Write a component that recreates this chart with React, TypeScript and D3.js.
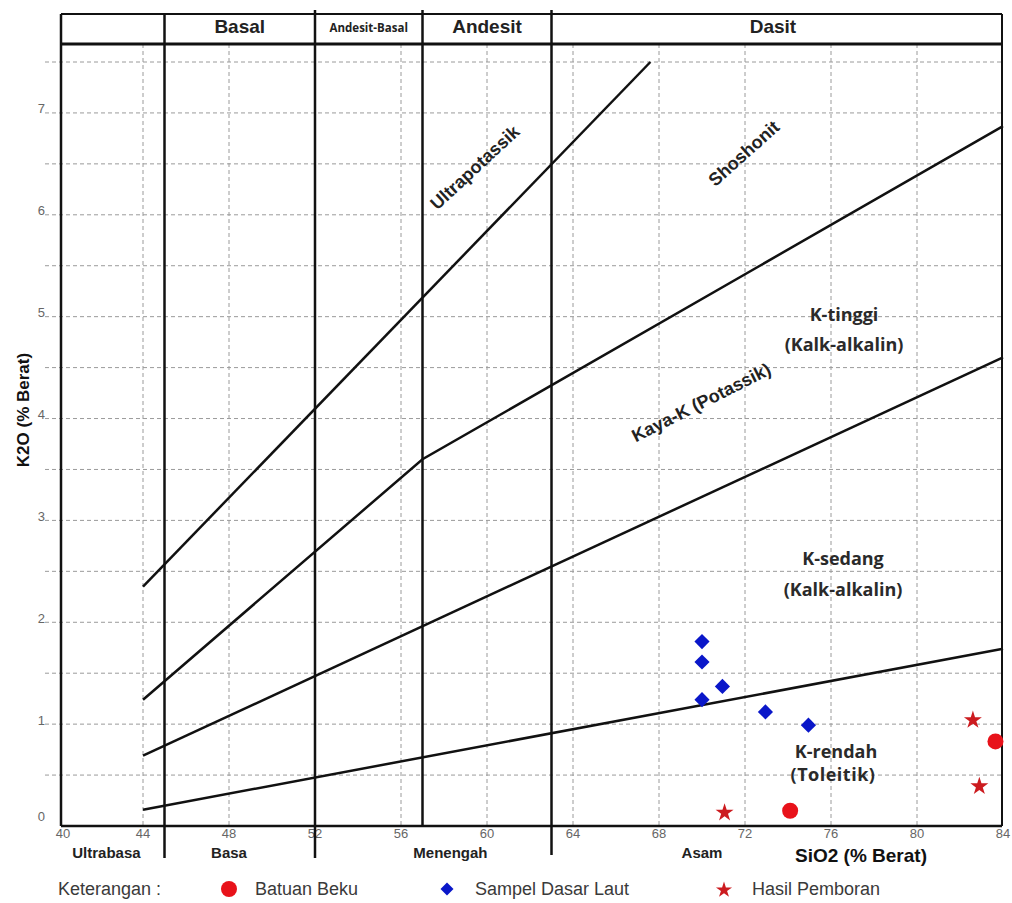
import * as d3 from 'd3';
import React from 'react';

// Harker-style K2O vs SiO2 diagram (Peccerillo & Taylor)
const sio2Ticks = [40, 44, 48, 52, 56, 60, 64, 68, 72, 76, 80, 84];
const k2oTicks = [0, 1, 2, 3, 4, 5, 6, 7];
const gridX = [44, 48, 52, 56, 60, 64, 68, 72, 76, 80];
const gridY = [0.5, 1, 1.5, 2, 2.5, 3, 3.5, 4, 4.5, 5, 5.5, 6, 6.5, 7, 7.5];

// rock type boundaries (SiO2 %)
const divisions = [45, 52, 57, 63];
const headerNames = ['Basal', 'Andesit-Basal', 'Andesit', 'Dasit'];
const headerCenters = [48.5, 54.5, 60, 73.3];
const bottomNames = ['Ultrabasa', 'Basa', 'Menengah', 'Asam'];
const bottomCenters = [42.3, 48, 58.3, 70];

// series boundary lines [SiO2, K2O]
const ultrapotassikLine: [number, number][] = [[44, 2.35], [67.6, 7.5]];
const shoshonitLine: [number, number][] = [[44, 1.24], [57, 3.6], [84, 6.87]];
const highKLine: [number, number][] = [[44, 0.69], [84, 4.6]];
const lowKLine: [number, number][] = [[44, 0.16], [84, 1.74]];

// samples
const batuanBeku: [number, number][] = [[74.1, 0.15], [83.65, 0.83]];
const sampelDasarLaut: [number, number][] = [[70, 1.81], [70, 1.61], [70.95, 1.37], [70, 1.24], [72.95, 1.12], [74.95, 0.99]];
const hasilPemboran: [number, number][] = [[82.6, 1.04], [82.9, 0.39], [71.05, 0.13]];

const W = 1012, H = 903;
const left = 61, right = 1002, top = 14, headerBottom = 44, bottom = 826;

const x = d3.scaleLinear().domain([40, 84]).range([57, 1003]);
const y = d3.scaleLinear().domain([0, 7.5]).range([bottom, 62]);

const line = d3.line<[number, number]>().x(d => x(d[0])).y(d => y(d[1]));
const star = d3.symbol().type(d3.symbolStar).size(100)();
const starSmall = d3.symbol().type(d3.symbolStar).size(80)();
const diamond = d3.symbol().type(d3.symbolSquare).size(115)();
const diamondSmall = d3.symbol().type(d3.symbolSquare).size(85)();

const RED = '#e8121a';
const BLUE = '#0a17c9';
const STAR = '#cc1b1f';
const bold = { fontFamily: 'Liberation Sans, Arial, sans-serif', fontWeight: 700 } as const;

// angle of a segment on screen
const angle = (a: [number, number], b: [number, number]) =>
    Math.atan2(y(b[1]) - y(a[1]), x(b[0]) - x(a[0])) * 180 / Math.PI;

const App = () => {
    const ultraAng = angle(ultrapotassikLine[0], ultrapotassikLine[1]);
    const shoAng = angle(shoshonitLine[1], shoshonitLine[2]);
    const kayaAng = angle(highKLine[0], highKLine[1]) - 2;

    return (
        <svg width={W} height={H} style={{ position: 'absolute', left: 0, top: 0, background: '#fff' }}>
            {/* dashed grid */}
            <g stroke="#9a9a9a" strokeWidth={1} strokeDasharray="4,3">
                {gridY.map(v => (
                    <line key={'gy' + v} x1={45} x2={right} y1={y(v)} y2={y(v)} />
                ))}
                {gridX.map(v => (
                    <line key={'gx' + v} x1={x(v)} x2={x(v)} y1={headerBottom} y2={bottom} />
                ))}
            </g>

            {/* tick labels */}
            <g fill="#666" fontFamily="Liberation Sans, Arial, sans-serif" fontSize={13}>
                {k2oTicks.map(v => (
                    <text key={'yt' + v} x={45} y={y(v) - (v === 0 ? 8 : 3)} textAnchor="end" dominantBaseline="middle">{v}</text>
                ))}
                {sio2Ticks.map(v => (
                    <text key={'xt' + v} x={x(v) + (v === 40 ? 6 : 0)} y={838} textAnchor="middle">{v}</text>
                ))}
            </g>

            {/* boundary lines */}
            <g fill="none" stroke="#111" strokeWidth={2.5}>
                {[ultrapotassikLine, shoshonitLine, highKLine, lowKLine].map((l, i) => (
                    <path key={'l' + i} d={line(l) || ''} />
                ))}
            </g>

            {/* frame + header */}
            <g stroke="#111" fill="none">
                <line x1={left} x2={right} y1={top} y2={top} strokeWidth={2} />
                <line x1={left} x2={right} y1={headerBottom} y2={headerBottom} strokeWidth={3} />
                <line x1={left} x2={right} y1={bottom} y2={bottom} strokeWidth={2.5} />
                <line x1={left} x2={left} y1={top} y2={bottom} strokeWidth={2.5} />
                <line x1={right} x2={right} y1={top} y2={bottom} strokeWidth={2} />
                {divisions.map((d, i) => (
                    <line key={'dv' + d} x1={x(d)} x2={x(d)}
                        y1={i === 0 ? top : 10}
                        y2={i === 2 ? bottom : (i === 3 ? 855 : 858)}
                        strokeWidth={2.5} />
                ))}
            </g>

            {/* header labels */}
            {headerNames.map((n, i) => (
                <text key={'h' + n} x={x(headerCenters[i])} y={i === 1 ? 32 : 33} textAnchor="middle"
                    fill="#222"
                    style={i === 1 ? { fontFamily: 'Open Sans, sans-serif', fontWeight: 700 } : bold}
                    fontSize={i === 1 ? 11.5 : 19}>{n}</text>
            ))}

            {/* bottom category labels */}
            {bottomNames.map((n, i) => (
                <text key={'b' + n} x={x(bottomCenters[i])} y={858} textAnchor="middle" fill="#222"
                    style={bold} fontSize={15}>{n}</text>
            ))}

            {/* field labels */}
            <g fill="#222" style={bold} fontSize={18}>
                <text transform={`translate(479,172) rotate(${ultraAng + 3})`} textAnchor="middle">Ultrapotassik</text>
                <text transform={`translate(748,158) rotate(${shoAng - 12})`} textAnchor="middle">Shoshonit</text>
                <text transform={`translate(704,408) rotate(${kayaAng})`} textAnchor="middle">Kaya-K (Potassik)</text>
            </g>
            <g fill="#2a2a2a" style={{ fontFamily: 'Open Sans, sans-serif', fontWeight: 700 }} fontSize={18} textAnchor="middle">
                <text x={844} y={321}>K-tinggi</text>
                <text x={844} y={351}>(Kalk-alkalin)</text>
                <text x={843} y={565}>K-sedang</text>
                <text x={843} y={596}>(Kalk-alkalin)</text>
                <text x={836} y={758}>K-rendah</text>
                <text x={833} y={781} letterSpacing={0.5}>(Toleitik)</text>
            </g>

            {/* axis titles */}
            <text transform="translate(29,410) rotate(-90)" textAnchor="middle" fill="#111" style={bold} fontSize={17}>K2O (% Berat)</text>
            <text x={861} y={862} textAnchor="middle" fill="#111" style={bold} fontSize={19}>SiO2 (% Berat)</text>

            {/* samples */}
            {sampelDasarLaut.map((p, i) => (
                <path key={'s' + i} d={diamond} fill={BLUE} transform={`translate(${x(p[0])},${y(p[1])}) rotate(45)`} />
            ))}
            {hasilPemboran.map((p, i) => (
                <path key={'h' + i} d={star} fill={STAR} transform={`translate(${x(p[0])},${y(p[1])})`} />
            ))}
            {batuanBeku.map((p, i) => (
                <circle key={'c' + i} cx={x(p[0])} cy={y(p[1])} r={8} fill={RED} />
            ))}

            {/* legend */}
            <g fill="#3a3a3a" fontFamily="Liberation Sans, Arial, sans-serif" fontSize={18}>
                <text x={58} y={895}>Keterangan :</text>
                <circle cx={229} cy={889} r={8} fill={RED} />
                <text x={255} y={895}>Batuan Beku</text>
                <path d={diamondSmall} fill={BLUE} transform="translate(447,889) rotate(45)" />
                <text x={475} y={895}>Sampel Dasar Laut</text>
                <path d={starSmall} fill={STAR} transform="translate(724,890)" />
                <text x={752} y={895}>Hasil Pemboran</text>
            </g>
        </svg>
    );
};

export default App;
